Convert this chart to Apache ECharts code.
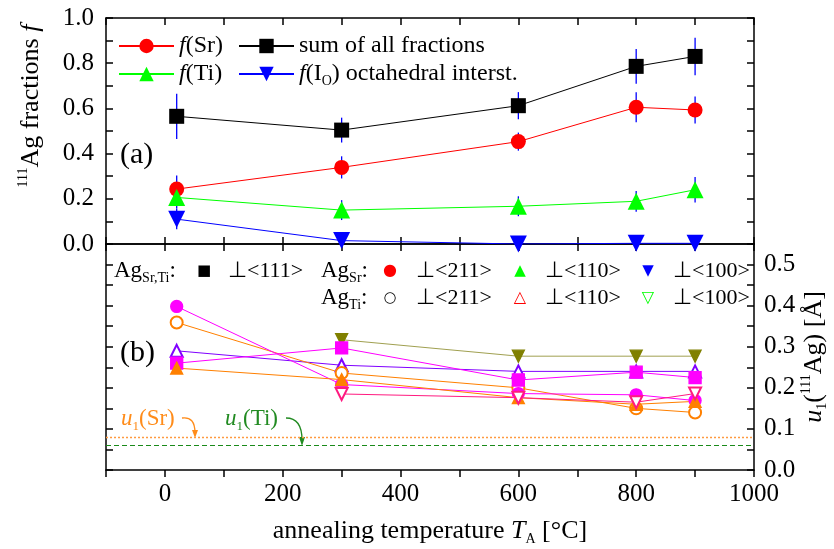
<!DOCTYPE html>
<html><head><meta charset="utf-8">
<script src="https://cdn.jsdelivr.net/npm/echarts@6/dist/echarts.min.js"></script>
<style>html,body{margin:0;padding:0;background:#fff}#c{width:834px;height:549px}</style>
</head><body><div id="c"></div>
<script>
// ---------- data ----------
const temps = [20, 300, 600, 800, 900];
// panel (a): fractions
const fSr     = [0.243, 0.339, 0.453, 0.605, 0.593];
const fSrErr  = [0.060, 0.049, 0.040, 0.066, 0.060];
const fTi     = [0.206, 0.150, 0.167, 0.189, 0.240];
const fTiErr  = [0.050, 0.044, 0.044, 0.046, 0.056];
const fIo     = [0.110, 0.015, 0.000, 0.003, 0.003];
const fIoErr  = [0.045, 0, 0, 0, 0];
const fSum    = [0.565, 0.504, 0.612, 0.786, 0.830];
const fSumErr = [0.100, 0.055, 0.060, 0.077, 0.083];
// panel (b): displacements u1 [Å]
const uSr211 = [0.398, 0.208, 0.186, 0.183, 0.169];
const uTi211 = [0.359, 0.236, 0.200, 0.150, 0.140];
const uTi110 = [0.290, 0.255, 0.240, 0.240, 0.240];
const u111   = [0.260, 0.297, 0.219, 0.238, 0.225];
const uSr110 = [0.248, 0.220, 0.176, 0.160, 0.167];
const uSr100 = [null, 0.317, 0.277, 0.277, 0.277];
const uTi100 = [null, 0.185, 0.176, 0.165, 0.186];
const u1Sr = 0.076, u1Ti = 0.058;
// ticks
const xTickLabels = [0, 200, 400, 600, 800, 1000];

const FONT = 'Liberation Serif';
const FS = 25;      // tick labels
const LFS = 24;     // legend (a)
const BFS = 22;     // legend (b)
const TFS = 26;     // axis titles
const chart = echarts.init(document.getElementById('c'));

function pairs(vals){ const out=[]; temps.forEach((t,i)=>{ if(vals[i]!==null) out.push([t, vals[i]]); }); return out; }

const lineAx = {show:true, onZero:false, lineStyle:{color:'#000', width:1.5}};
function xAx(grid, pos, labels, tickInside){
  return {type:'value', gridIndex:grid, position:pos, min:-100, max:1000, interval:100,
    axisLine:lineAx, splitLine:{show:false},
    axisTick:{show:true, inside:tickInside, length:7, lineStyle:{color:'#000', width:1.5}},
    axisLabel:{show:labels, margin:12, color:'#000', fontFamily:FONT, fontSize:FS,
      formatter: v => xTickLabels.indexOf(v) >= 0 ? String(v) : ''}};
}

function errSeries(vals, errs){
  return {type:'custom', xAxisIndex:0, yAxisIndex:0, z:2, silent:true,
    data: temps.map((t,i)=>[t, vals[i], errs[i]]),
    renderItem(params, api){
      const x=api.value(0), y=api.value(1), e=api.value(2);
      if(!e) return null;
      const p1=api.coord([x,y+e]), p2=api.coord([x,y-e]);
      return {type:'line', shape:{x1:p1[0],y1:p1[1],x2:p2[0],y2:p2[1]}, style:{stroke:'#0000ff', lineWidth:1.3}};
    }};
}
function topLine(name, vals, sym, size, color, rot){
  return {name, type:'line', xAxisIndex:0, yAxisIndex:0, data:pairs(vals), symbol:sym, symbolSize:size,
    symbolRotate:rot||0, lineStyle:{color, width:1}, itemStyle:{color}, z:3, silent:true};
}
function botLine(vals, sym, color, lineColor, rot){
  return {type:'line', xAxisIndex:2, yAxisIndex:2, data:pairs(vals), symbol:sym, symbolSize:12,
    symbolRotate:rot||0, showAllSymbol:true, lineStyle:{color:lineColor||color, width:1},
    itemStyle:{color, borderColor:color, borderWidth:1.3}, z:3, silent:true};
}

const legRich = {i:{fontStyle:'italic', fontFamily:FONT, fontSize:LFS, lineHeight:28}, s:{fontFamily:FONT, fontSize:14, verticalAlign:'bottom', lineHeight:14}, n:{fontFamily:FONT, fontSize:LFS, lineHeight:28}};
const legendNames = {
  'f(Sr)':'{i|f}{n|(Sr)}',
  'sum of all fractions':'{n|sum of all fractions}',
  'f(Ti)':'{i|f}{n|(Ti)}',
  'f(IO) octahedral interst.':'{i|f}{n|(I}{s|O}{n|) octahedral interst.}'
};
function leg(name, left, top, w){
  return {data:[name], left, top, orient:'horizontal', itemWidth:w, itemHeight:18, padding:0, itemGap:0,
    selectedMode:false, formatter: n => legendNames[n],
    textStyle:{color:'#000', fontFamily:FONT, fontSize:LFS, rich:legRich}};
}

const bRich = {s:{fontSize:14, fontFamily:FONT, verticalAlign:'bottom', lineHeight:14}, n:{fontSize:23, fontFamily:FONT, lineHeight:28}};
const T = (text, x, y, extra) => ({type:'text', x, y, silent:true,
  style:Object.assign({text, fill:'#000', font:BFS+'px "'+FONT+'"', textVerticalAlign:'middle', rich:bRich}, extra||{})});
const G = (ch, x, y, color, size) => ({type:'text', x, y, silent:true,
  style:{text:ch, fill:color, font:(size||16)+'px "DejaVu Sans"', textAlign:'center', textVerticalAlign:'middle'}});
const uRich = {i:{fontFamily:FONT,fontSize:23,fontStyle:'italic',lineHeight:28}, s:{fontFamily:FONT,fontSize:13,verticalAlign:'bottom',lineHeight:13}, n:{fontFamily:FONT,fontSize:23,lineHeight:28}};

const option = {
  animation:false,
  backgroundColor:'#fff',
  grid:[
    {left:106, top:18, width:648, height:226, outerBoundsMode:'none', containLabel:false},
    {left:106, top:244, width:648, height:226, outerBoundsMode:'none', containLabel:false}
  ],
  xAxis:[
    xAx(0,'bottom',false,true),
    xAx(0,'top',false,true),
    Object.assign(xAx(1,'bottom',true,false), {
      name:'{n|annealing temperature }{i|T}{s|A}{n| [°C]}', nameLocation:'middle', nameGap:46,
      nameTextStyle:{color:'#000', fontFamily:FONT, fontSize:TFS,
        rich:{n:{fontFamily:FONT,fontSize:TFS,lineHeight:30}, i:{fontFamily:FONT,fontSize:TFS,fontStyle:'italic',lineHeight:30}, s:{fontFamily:FONT,fontSize:14,verticalAlign:'bottom',lineHeight:14}}}}),
    xAx(1,'top',false,true)
  ],
  yAxis:[
    {type:'value', gridIndex:0, position:'left', min:0, max:1, interval:0.1,
      axisLine:lineAx, splitLine:{show:false},
      axisTick:{inside:true, length:7, lineStyle:{color:'#000', width:1.5}},
      axisLabel:{margin:12, color:'#000', fontFamily:FONT, fontSize:FS,
        formatter: v => (Math.round(v*10)%2===0) ? v.toFixed(1) : ''}},
    {type:'value', gridIndex:0, position:'right', min:0, max:1, interval:0.1,
      axisLine:lineAx, splitLine:{show:false},
      axisTick:{inside:true, length:7, lineStyle:{color:'#000', width:1.5}}, axisLabel:{show:false}},
    {type:'value', gridIndex:1, position:'left', min:0, max:0.55, interval:0.05,
      axisLine:lineAx, splitLine:{show:false},
      axisTick:{inside:true, length:7, lineStyle:{color:'#000', width:1.5}}, axisLabel:{show:false}},
    {type:'value', gridIndex:1, position:'right', min:0, max:0.55, interval:0.05,
      axisLine:lineAx, splitLine:{show:false},
      axisTick:{inside:true, length:7, lineStyle:{color:'#000', width:1.5}},
      axisLabel:{margin:10, color:'#000', fontFamily:FONT, fontSize:FS,
        formatter: v => (Math.round(v*100)%10===0) ? v.toFixed(1) : ''},
      name:'{i|u}{s|1}{n|(}{p|111}{n|Ag) [Å]}', nameLocation:'middle', nameGap:45, nameRotate:90,
      nameMoveOverlap:false,
      nameTextStyle:{color:'#000', fontFamily:FONT, fontSize:TFS,
        rich:{n:{fontFamily:FONT,fontSize:TFS,lineHeight:30}, i:{fontFamily:FONT,fontSize:TFS,fontStyle:'italic',lineHeight:30},
          s:{fontFamily:FONT,fontSize:14,verticalAlign:'bottom',lineHeight:14}, p:{fontFamily:FONT,fontSize:14,verticalAlign:'top',lineHeight:14}}}}
  ],
  legend:[
    leg('f(Sr)', 118, 34, 55),
    leg('sum of all fractions', 238, 34, 55),
    leg('f(Ti)', 118, 62, 55),
    leg('f(IO) octahedral interst.', 238, 62, 55)
  ],
  series:[
    errSeries(fSum, fSumErr), errSeries(fSr, fSrErr), errSeries(fTi, fTiErr), errSeries(fIo, fIoErr),
    topLine('f(Sr)', fSr, 'circle', 15, '#ff0000'),
    topLine('sum of all fractions', fSum, 'rect', 15, '#000000'),
    topLine('f(Ti)', fTi, 'triangle', 17, '#00ff00'),
    topLine('f(IO) octahedral interst.', fIo, 'triangle', 17, '#0000ff', 180),
    botLine(uSr100, 'triangle', '#808000', '#a0a050', 180),
    botLine(uTi110, 'emptyTriangle', '#8000ff'),
    botLine(uTi211, 'emptyCircle', '#ff8000'),
    botLine(u111, 'rect', '#ff00ff'),
    botLine(uSr211, 'circle', '#ff00ff'),
    botLine(uSr110, 'triangle', '#ff8000'),
    botLine(uTi100, 'emptyTriangle', '#ff1a80', '#ff1a80', 180),
    {type:'line', xAxisIndex:2, yAxisIndex:2, data:[], silent:true,
      markLine:{silent:true, symbol:'none', label:{show:false},
        data:[
          {yAxis:u1Sr, lineStyle:{color:'#ff9a40', type:[2,2], width:1.3}},
          {yAxis:u1Ti, lineStyle:{color:'#1a8a1a', type:[5,3], width:1.1}}
        ]}}
  ],
  graphic:[
    // left axis title (panel a only)
    {type:'text', x:31, y:106, rotation:Math.PI/2, silent:true,
      style:{text:'{p|111}{n|Ag fractions }{i|f}', fill:'#000', textAlign:'center', textVerticalAlign:'middle',
        rich:{n:{fontFamily:FONT,fontSize:TFS,lineHeight:30}, i:{fontFamily:FONT,fontSize:TFS,fontStyle:'italic',lineHeight:30}, p:{fontFamily:FONT,fontSize:14,verticalAlign:'top',lineHeight:14}}}},
    T('(a)', 120, 155, {font:'30px "'+FONT+'"'}),
    T('(b)', 120, 353, {font:'30px "'+FONT+'"'}),
    // bottom legend row 1
    T('{n|Ag}{s|Sr,Ti}{n|:}', 114, 271),
    G('■', 204, 271, '#000', 15),
    T('⊥<111>', 228, 271),
    T('{n|Ag}{s|Sr}{n|:}', 321, 271),
    G('●', 390, 271, '#ff0000', 16),
    T('⊥<211>', 416, 271),
    G('▲', 520, 271, '#00ff00', 15),
    T('⊥<110>', 545, 271),
    G('▼', 648, 271, '#0000ff', 15),
    T('⊥<100>', 673, 271),
    // row 2
    T('{n|Ag}{s|Ti}{n|:}', 321, 298),
    G('○', 390, 298, '#000', 15),
    T('⊥<211>', 416, 298),
    G('△', 520, 298, '#ff0000', 16),
    T('⊥<110>', 545, 298),
    G('▽', 648, 298, '#00ff00', 16),
    T('⊥<100>', 673, 298),
    // u1 annotations
    {type:'text', x:121, y:419, silent:true, style:{text:'{i|u}{s|1}{n|(Sr)}', fill:'#ff8c1a', textVerticalAlign:'middle', rich:uRich}},
    {type:'bezierCurve', silent:true, shape:{x1:182, y1:418, cpx1:195, cpy1:416, x2:195, y2:433}, style:{stroke:'#ff8c1a', lineWidth:1.3, fill:null}},
    {type:'polygon', silent:true, shape:{points:[[192,430],[198,430],[195,438]]}, style:{fill:'#ff8c1a'}},
    {type:'text', x:225, y:419, silent:true, style:{text:'{i|u}{s|1}{n|(Ti)}', fill:'#228b22', textVerticalAlign:'middle', rich:uRich}},
    {type:'bezierCurve', silent:true, shape:{x1:286, y1:418, cpx1:302, cpy1:418, x2:302, y2:440}, style:{stroke:'#228b22', lineWidth:1.3, fill:null}},
    {type:'polygon', silent:true, shape:{points:[[299,437],[305,437],[302,446]]}, style:{fill:'#228b22'}}
  ]
};
chart.setOption(option);
</script></body></html>
